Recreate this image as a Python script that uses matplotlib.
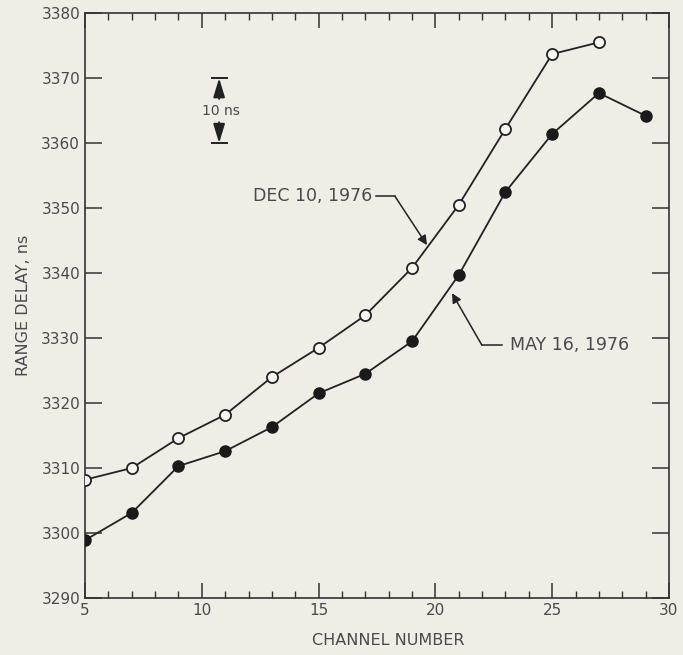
import matplotlib
matplotlib.use("Agg")
import matplotlib.pyplot as plt
from matplotlib.ticker import MultipleLocator

# data
channel = [5, 7, 9, 11, 13, 15, 17, 19, 21, 23, 25, 27, 29]
dec_1976 = [3308.2, 3310.0, 3314.6, 3318.2, 3324.0, 3328.5, 3333.5,
            3340.8, 3350.5, 3362.2, 3373.7, 3375.5]
may_1976 = [3298.9, 3303.1, 3310.3, 3312.6, 3316.3, 3321.5, 3324.5,
            3329.5, 3339.7, 3352.5, 3361.4, 3367.7, 3364.2]

bg = '#eeeee6'
ink = '#222222'
txt = '#4a4a4a'

plt.rcParams['font.family'] = ['DejaVu Sans']

fig = plt.figure(figsize=(6.83, 6.55), dpi=100, facecolor=bg)
ax = fig.add_axes([0.1245, 0.087, 0.855, 0.893], facecolor=bg)

ax.plot(channel[:len(dec_1976)], dec_1976, color=ink, lw=1.3, marker='o', ms=8,
        mfc='#f7f7f2', mec=ink, mew=1.3, zorder=3)
ax.plot(channel, may_1976, color=ink, lw=1.3, marker='o', ms=8,
        mfc='#1a1a1a', mec='#1a1a1a', zorder=3)

ax.set_xlim(5, 30)
ax.set_ylim(3290, 3380)
ax.xaxis.set_major_locator(MultipleLocator(5))
ax.xaxis.set_minor_locator(MultipleLocator(1))
ax.yaxis.set_major_locator(MultipleLocator(10))

ax.tick_params(axis='both', which='major', direction='in', length=11, width=1.1,
               color='#333333', labelsize=11, labelcolor=txt, top=True, right=True)
ax.tick_params(axis='x', which='minor', direction='in', length=5, width=1.0,
               color='#333333', top=True)
ax.tick_params(axis='y', which='major', length=12)
for s in ax.spines.values():
    s.set_color('#333333')
    s.set_linewidth(1.2)

ax.set_xlabel('CHANNEL NUMBER', fontsize=11.5, color=txt)
ax.set_ylabel('RANGE DELAY, ns', fontsize=11.5, color=txt)
ax.xaxis.set_label_coords(0.52, -0.06)
ax.yaxis.set_label_coords(-0.092, 0.5)

# 10 ns scale bar
bar_arrow = dict(arrowstyle='-|>,head_length=1.15,head_width=0.35', color=ink,
                 lw=1.4, mutation_scale=10, shrinkA=0, shrinkB=0)
ax.plot([10.42, 11.06], [3370, 3370], color=ink, lw=1.4)
ax.plot([10.42, 11.06], [3360, 3360], color=ink, lw=1.4)
ax.annotate('', xy=(10.74, 3370), xytext=(10.74, 3366.8), arrowprops=bar_arrow)
ax.annotate('', xy=(10.74, 3360), xytext=(10.74, 3363.2), arrowprops=bar_arrow)
ax.text(10.8, 3365, '10 ns', ha='center', va='center', fontsize=10, color=txt)

# labels for the two curves
ax.text(17.3, 3351.8, 'DEC 10, 1976', ha='right', va='center', fontsize=12.5, color=txt)
ax.plot([17.46, 18.27], [3351.8, 3351.8], color=ink, lw=1.1)
ax.annotate('', xy=(19.64, 3344.3), xytext=(18.27, 3351.8),
            arrowprops=dict(arrowstyle='-|>', color=ink, lw=1.1, mutation_scale=14,
                            shrinkA=0, shrinkB=0))

ax.text(23.2, 3328.9, 'MAY 16, 1976', ha='left', va='center', fontsize=12.5, color=txt)
ax.plot([22.85, 21.99], [3328.9, 3328.9], color=ink, lw=1.1)
ax.annotate('', xy=(20.71, 3336.9), xytext=(21.99, 3328.9),
            arrowprops=dict(arrowstyle='-|>', color=ink, lw=1.1, mutation_scale=14,
                            shrinkA=0, shrinkB=0))

fig.savefig('out.png', dpi=100, facecolor=bg)
